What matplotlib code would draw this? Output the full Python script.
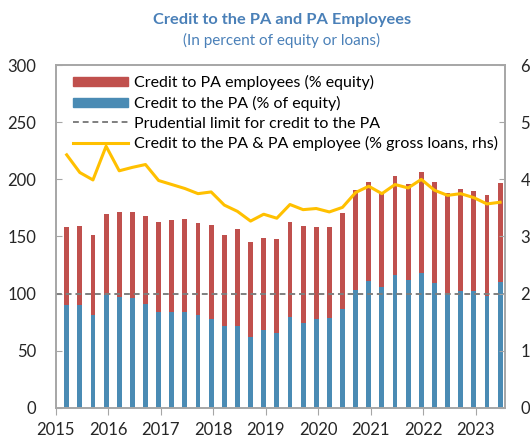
import matplotlib
matplotlib.use("Agg")
import matplotlib.pyplot as plt
from matplotlib.patches import Patch
from matplotlib.lines import Line2D
import numpy as np

plt.rcParams['font.family'] = ['Lato', 'DejaVu Sans']

# quarterly data, 2015Q1 .. 2023Q2 (left axis: % of equity, right axis: % of gross loans)
years = ['2015', '2016', '2017', '2018', '2019', '2020', '2021', '2022', '2023']
credit_pa = [90.1, 90.1, 81.0, 99.1, 97.1, 95.9, 91.2, 84.2, 84.2, 84.2, 81.0, 77.8,
             71.9, 71.9, 61.7, 68.4, 65.2, 79.2, 74.3, 77.8, 78.7, 86.6, 103.5, 111.4,
             105.6, 116.4, 112.0, 117.8, 109.0, 100.6, 102.6, 102.0, 98.0, 110.5]
credit_total = [158.5, 159.6, 151.2, 169.6, 171.7, 171.3, 168.1, 162.3, 164.6, 165.5, 161.4, 160.5,
                151.5, 157.0, 145.3, 148.5, 147.4, 162.3, 159.6, 158.5, 158.5, 170.5, 190.6, 198.0,
                188.3, 203.2, 195.6, 206.4, 198.0, 188.3, 191.2, 189.8, 186.3, 197.1]
credit_gross_loans = [4.43, 4.12, 3.99, 4.58, 4.15, 4.21, 4.26, 3.98, 3.91, 3.84, 3.75, 3.78,
                      3.55, 3.44, 3.27, 3.39, 3.32, 3.56, 3.47, 3.49, 3.43, 3.51, 3.77, 3.88,
                      3.75, 3.91, 3.85, 4.00, 3.81, 3.72, 3.75, 3.68, 3.57, 3.60]
prudential_limit = 100

credit_pa = np.array(credit_pa)
credit_emp = np.array(credit_total) - credit_pa
x = np.arange(len(credit_pa))

red = '#c0504d'
blue = '#4a8bb4'
yellow = '#ffc000'
grey = '#a6a6a6'
title_blue = '#4a80b8'

fig = plt.figure(figsize=(5.3, 4.4), dpi=100)
ax = fig.add_axes([0.105, 0.073, 0.848, 0.779])
ax2 = ax.twinx()

ax.bar(x, credit_pa, width=0.37, color=blue, zorder=2)
ax.bar(x, credit_emp, width=0.37, bottom=credit_pa, color=red, zorder=2)
ax.axhline(prudential_limit, color='#7f7f7f', linestyle=(0, (3, 2)), linewidth=1.4, zorder=3)
ax2.plot(x, credit_gross_loans, color=yellow, linewidth=2.2)

ax.set_xlim(-0.84, 33.38)
ax.set_ylim(0, 300)
ax2.set_ylim(0, 6)
ax.set_xticks(-0.84 + 4 * np.arange(len(years)))
ax.set_xticklabels(years)
ax.set_yticks(np.arange(0, 301, 50))
ax2.set_yticks(np.arange(0, 7, 1))

for a in (ax, ax2):
    for s in a.spines.values():
        s.set_color(grey)
        s.set_linewidth(1.2)
ax.tick_params(axis='y', direction='in', length=4, color=grey, labelsize=12, pad=14, labelcolor='#262626')
ax.tick_params(axis='x', direction='out', length=5, color=grey, labelsize=12, pad=5, labelcolor='#262626')
ax2.tick_params(axis='y', direction='in', length=4, color=grey, labelsize=12, pad=11, labelcolor='#262626')

handles = [Patch(color=red), Patch(color=blue),
           Line2D([], [], color='#7f7f7f', linestyle=(0, (3, 2)), linewidth=1.4),
           Line2D([], [], color=yellow, linewidth=2.2)]
labels = ['Credit to PA employees (% equity)', 'Credit to the PA (% of equity)',
          'Prudential limit for credit to the PA',
          'Credit to the PA & PA employee (% gross loans, rhs)']
ax2.legend(handles, labels, loc='upper left', bbox_to_anchor=(0.025, 0.99), frameon=False,
           fontsize=11.5, handlelength=3.4, handleheight=0.5, handletextpad=0.4, labelspacing=0.36,
           borderaxespad=0)

fig.text(0.532, 0.955, 'Credit to the PA and PA Employees', ha='center', va='center',
         fontsize=11.8, fontweight='bold', color=title_blue)
fig.text(0.532, 0.907, '(In percent of equity or loans)', ha='center', va='center',
         fontsize=11, color=title_blue)

fig.savefig('out.png', dpi=100)
